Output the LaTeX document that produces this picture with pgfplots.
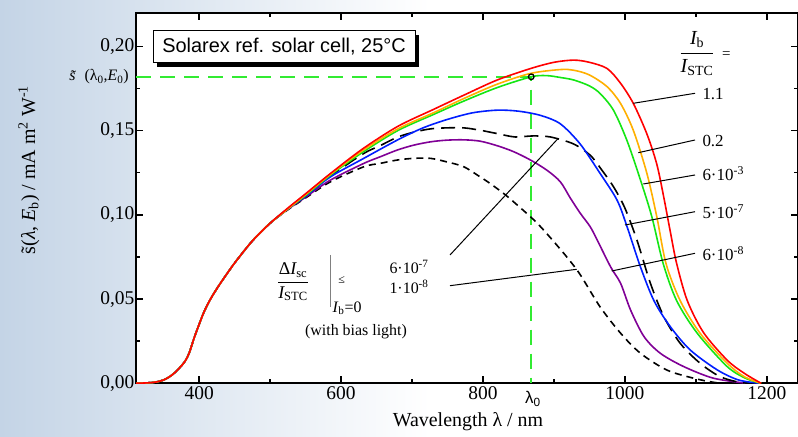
\documentclass[border=0pt]{standalone}
\usepackage{pgfplots}
\pgfplotsset{compat=1.18}
\usetikzlibrary{backgrounds}
\usepackage{fontspec}
\setmainfont{Liberation Serif}
\newfontfamily\arial{Liberation Sans}
\definecolor{cred}{RGB}{255,0,0}
\definecolor{corange}{RGB}{255,176,0}
\definecolor{cgreen}{RGB}{20,230,20}
\definecolor{cblue}{RGB}{0,30,255}
\definecolor{cpurple}{RGB}{128,0,150}
\definecolor{clime}{RGB}{50,235,50}
\definecolor{bgblue}{RGB}{196,212,230}
\begin{document}
\begin{tikzpicture}[x=1bp,y=1bp]
\begin{axis}[
 scale only axis, width=662bp, height=370bp,
 xmin=311, xmax=1244, ymin=0, ymax=0.2196,
 axis background/.style={fill=white},
 axis line style={line width=2bp},
 xtick={400,600,800,1000,1200}, minor xtick={500,700,900,1100},
 ytick={0,0.05,0.10,0.15,0.20}, minor ytick={0.025,0.075,0.125,0.175},
 tick style={black, line width=1.4bp}, major tick length=7bp, minor tick length=4bp,
 tick align=inside,
 /pgf/number format/assume math mode=true,
 xticklabel style={font=\fontsize{19.5}{22}\selectfont, /pgf/number format/1000 sep={}},
 yticklabel style={font=\fontsize{19.5}{22}\selectfont, inner sep=1.5bp, /pgf/number format/.cd, fixed, fixed zerofill, precision=2, use comma},
 every axis plot/.append style={line width=1.6bp, smooth},
 clip=true,
]
% green reference lines
\addplot[clime, sharp plot, line width=1.7bp, dash pattern=on 15bp off 9bp] coordinates {(311,0.1819)(868,0.1819)(868,0)};
% short dashed: 1e-8
\addplot[black, dash pattern=on 7bp off 5bp] coordinates {
(311,0)(335,0.0005)(350,0.002)(362,0.005)(372,0.009)(380,0.013)(386,0.018)(393,0.027)(400,0.035)(407,0.0425)(416,0.050)(427,0.0575)(440,0.0655)(452,0.0725)(475,0.0845)(500,0.095)(525,0.103)(550,0.110)
(585,0.1196)(632,0.1285)(655,0.1305)(679,0.1325)(702,0.1335)(726,0.1335)(749,0.1314)(773,0.1285)(796,0.1225)(810,0.1186)(834,0.111)(867,0.0988)(881,0.093)(900,0.084)(920,0.074)(937,0.0645)(965,0.0454)(994,0.0297)(1022,0.0178)(1059,0.0079)(1097,0.003)(1130,0.0003)(1160,0)};
% purple: 6e-8
\addplot[cpurple] coordinates {
(311,0)(335,0.0005)(350,0.002)(362,0.005)(372,0.009)(380,0.013)(386,0.018)(393,0.027)(400,0.035)(407,0.0425)(416,0.050)(427,0.0575)(440,0.0655)(452,0.0725)(475,0.0845)(500,0.095)(525,0.1032)(550,0.1105)
(585,0.1206)(632,0.1305)(655,0.1344)(679,0.1384)(702,0.1413)(726,0.1433)(749,0.1443)(773,0.1445)(796,0.1437)(820,0.1410)(843,0.1375)(867,0.1325)(890,0.1265)(909,0.1196)(923,0.1100)(937,0.1010)(951,0.093)(961,0.085)(980,0.069)(994,0.0593)(1008,0.0435)(1027,0.0277)(1050,0.0178)(1083,0.0099)(1125,0.003)(1172,0)};
% long dashed: 6e-7
\addplot[black, dash pattern=on 14bp off 7bp] coordinates {
(311,0)(335,0.0005)(350,0.002)(362,0.005)(372,0.009)(380,0.013)(386,0.018)(393,0.027)(400,0.035)(407,0.0425)(416,0.050)(427,0.0575)(440,0.0655)(452,0.0725)(475,0.0845)(500,0.095)(525,0.1035)(550,0.111)
(585,0.123)(632,0.1364)(655,0.1410)(679,0.1460)(702,0.149)(726,0.1510)(749,0.1516)(773,0.1516)(796,0.1502)(820,0.1482)(845,0.1462)(870,0.1468)(895,0.1462)(928,0.142)(951,0.1354)(965,0.128)(984,0.1166)(1000,0.104)(1017,0.085)(1036,0.0593)(1055,0.0395)(1078,0.0237)(1106,0.0119)(1134,0.004)(1163,0.0005)(1190,0)};
% blue: 5e-7
\addplot[cblue] coordinates {
(311,0)(335,0.0005)(350,0.002)(362,0.005)(372,0.009)(380,0.013)(386,0.018)(393,0.027)(400,0.035)(407,0.0425)(416,0.050)(427,0.0575)(440,0.0655)(452,0.0725)(475,0.0845)(500,0.095)(525,0.1035)(550,0.111)
(585,0.1225)(632,0.1335)(679,0.1443)(715,0.1515)(749,0.1565)(785,0.1605)(820,0.1621)(850,0.1615)(881,0.1590)(909,0.1540)(937,0.142)(965,0.1246)(989,0.1087)(1003,0.093)(1022,0.069)(1041,0.049)(1064,0.0336)(1092,0.0198)(1130,0.008)(1160,0.002)(1190,0)};
% green: 6e-3
\addplot[cgreen] coordinates {
(311,0)(335,0.0005)(350,0.002)(362,0.005)(372,0.009)(380,0.013)(386,0.018)(393,0.027)(400,0.035)(407,0.0425)(416,0.050)(427,0.0575)(440,0.0655)(452,0.0725)(475,0.0845)(500,0.095)(525,0.1035)(550,0.1115)
(585,0.1235)(630,0.137)(680,0.150)(730,0.1595)(773,0.1675)(820,0.1755)(868,0.1819)(890,0.1826)(909,0.1815)(928,0.180)(950,0.1765)(965,0.172)(984,0.162)(1003,0.144)(1022,0.1206)(1038,0.0988)(1054,0.071)(1073,0.049)(1102,0.0297)(1144,0.010)(1170,0.003)(1192,0)};
% orange: 0.2
\addplot[corange] coordinates {
(311,0)(335,0.0005)(350,0.002)(362,0.005)(372,0.009)(380,0.013)(386,0.018)(393,0.027)(400,0.035)(407,0.0425)(416,0.050)(427,0.0575)(440,0.0655)(452,0.0725)(475,0.0845)(500,0.095)(525,0.1035)(550,0.112)
(585,0.124)(630,0.138)(680,0.151)(730,0.1605)(773,0.169)(820,0.1775)(867,0.1839)(909,0.1862)(928,0.1858)(950,0.1830)(975,0.176)(994,0.166)(1012,0.150)(1031,0.1246)(1045,0.0988)(1058,0.071)(1078,0.049)(1106,0.0297)(1144,0.012)(1168,0.004)(1192,0)};
% red: 1.1
\addplot[cred] coordinates {
(311,0)(335,0.0005)(350,0.002)(362,0.005)(372,0.009)(380,0.013)(386,0.018)(393,0.027)(400,0.035)(407,0.0425)(416,0.050)(427,0.0575)(440,0.0655)(452,0.0725)(475,0.0845)(500,0.095)(525,0.104)(550,0.1125)
(585,0.1245)(630,0.139)(680,0.1525)(730,0.1625)(773,0.171)(820,0.180)(867,0.1868)(900,0.1905)(928,0.1918)(950,0.1905)(975,0.1868)(994,0.178)(1012,0.166)(1031,0.148)(1045,0.130)(1055,0.110)(1064,0.090)(1073,0.071)(1088,0.049)(1111,0.030)(1144,0.0138)(1168,0.006)(1192,0)};
% operating point
\addplot[only marks, mark=o, mark size=2.8bp, black, line width=1.3bp] coordinates {(868,0.1819)};
\coordinate (O) at (rel axis cs:0,0);
\end{axis}
\begin{scope}[on background layer, shift={(O)}, xshift=-136bp, yshift=-53.7bp]
\shade[left color=bgblue, right color=white] (0,0) rectangle (430,437);
\fill[white] (430,0) rectangle (798,437);
\end{scope}
\begin{scope}[shift={(O)}, xshift=-136bp, yshift=-53.7bp]
% title box
\fill[black] (157,370.3) rectangle (418.5,402.3);
\draw[fill=white, line width=0.8bp] (153,374.3) rectangle (415,406.3);
\node[font=\arial\fontsize{20}{22}\selectfont] at (284,390.3) {Solarex ref. solar cell, 25°C};
% axis labels
\node[font=\fontsize{20}{22}\selectfont] at (468,15) {Wavelength λ / nm};
\node[font=\fontsize{20}{22}\selectfont, rotate=90] at (29,267) {\~{s}(\textit{λ}, \textit{E}\textsubscript{b}) / mA m\textsuperscript{2} W\textsuperscript{-1}};
\node[font=\fontsize{16}{18}\selectfont, anchor=east, inner sep=1bp] at (130,360) {\textit{\~{s}}\,(λ\textsubscript{0},\textit{E}\textsubscript{0})};
\node[font=\arial\fontsize{17}{19}\selectfont] at (533,38) {λ\textsubscript{0}};
% right legend
\node[font=\fontsize{20}{22}\selectfont] at (705,383.7) {$\displaystyle\frac{\mbox{\itshape I\upshape\textsubscript{b}}}{\mbox{\itshape I\upshape\textsubscript{STC}}}$\fontsize{15}{17}\selectfont\ \ =};
\begin{scope}[line width=1bp]
\draw (695,343.7)--(633.3,333.7);
\draw (695,297)--(638.3,284.3);
\draw (695,262)--(643.3,253);
\draw (695,225.3)--(625,212);
\draw (695,183.7)--(611.7,166);
\draw (450,182)--(558.3,298.7);
\draw (450,151.3)--(576.7,167.7);
\end{scope}
\begin{scope}[font=\fontsize{17}{19}\selectfont]
\node[anchor=west] at (699,343) {1.1};
\node[anchor=west] at (699,296) {0.2};
\node[anchor=west] at (699,263) {6·10\textsuperscript{-3}};
\node[anchor=west] at (699,225) {5·10\textsuperscript{-7}};
\node[anchor=west] at (699,183) {6·10\textsuperscript{-8}};
\end{scope}
% left annotation
\node[font=\fontsize{18}{20}\selectfont] at (293,155) {$\displaystyle\frac{\mbox{Δ\itshape I\upshape\textsubscript{sc}}}{\mbox{\itshape I\upshape\textsubscript{STC}}}$};
\draw[gray, line width=0.8bp] (330,182)--(330,130.3);
\node[font=\fontsize{12}{14}\selectfont] at (341.7,157) {≤};
\node[font=\fontsize{16}{18}\selectfont] at (347,128.7) {\textit{I}\textsubscript{b}=0};
\node[font=\fontsize{16}{18}\selectfont] at (356,105.3) {(with bias light)};
\node[font=\fontsize{16}{18}\selectfont, anchor=west] at (386,170.3) {6·10\textsuperscript{-7}};
\node[font=\fontsize{16}{18}\selectfont, anchor=west] at (386,150.3) {1·10\textsuperscript{-8}};
\pgfresetboundingbox
\path[use as bounding box] (0,0) rectangle (798,437);
\end{scope}
\end{tikzpicture}
\end{document}
